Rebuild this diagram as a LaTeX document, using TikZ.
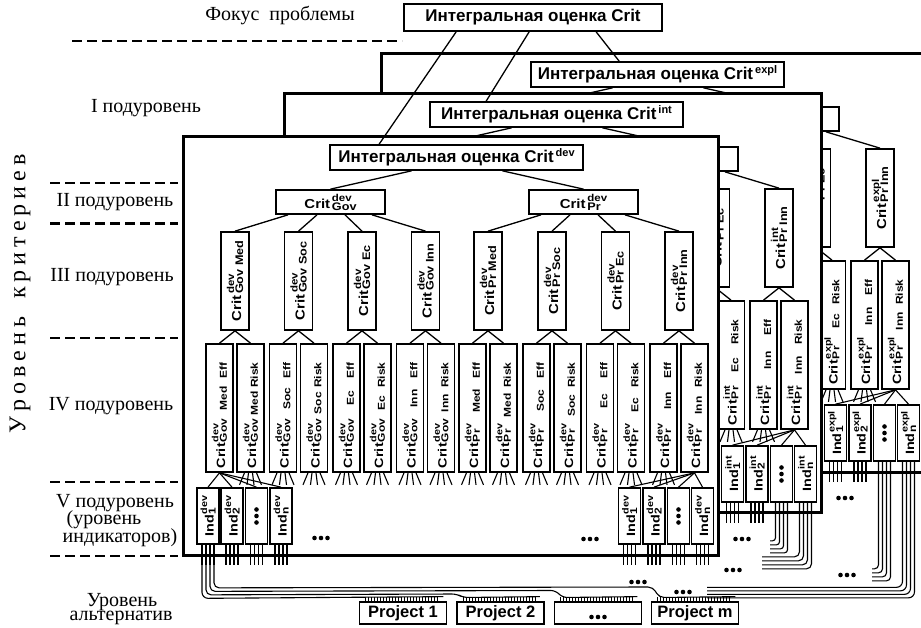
\documentclass[tikz,border=0pt]{standalone}
\usepackage{fontspec}
\setmainfont{Liberation Serif}
\newfontfamily\sansf{Liberation Sans}
\usetikzlibrary{calc}

\newif\ifpart
\newcommand\ShowIf[2]{\ifpart\ifnum\i<#1\relax\else#2\fi\else#2\fi}
\newcommand\LabII[2]{\scalebox{1.15}[1]{\fontsize{13}{13}\selectfont Crit\kern1.5pt\lower2pt\vbox{\baselineskip=9pt\lineskiplimit=-20pt\hbox{\fontsize{10}{10}\selectfont #1}\hbox{\fontsize{11}{11}\selectfont #2}}}}
\newcommand\LabIV[4]{\scalebox{1.2}[1]{\makebox[100pt][l]{\makebox[88pt][s]{\fontsize{12}{12}\selectfont Crit\kern1pt\lower1.8pt\vbox{\baselineskip=8.5pt\lineskiplimit=-20pt\hbox{\fontsize{9}{9}\selectfont #1}\hbox{\fontsize{10}{10}\selectfont #2}}\hspace{2.5pt plus 1fil}\lower1.8pt\hbox{\fontsize{10}{10}\selectfont #3}\hspace{2.5pt plus 1fil}\lower1.8pt\hbox{\fontsize{10}{10}\selectfont #4}}}}}
\newcommand\LabInd[2]{\scalebox{1.2}[1]{\fontsize{12}{12}\selectfont Ind\kern0.5pt\lower1.8pt\vbox{\baselineskip=8.5pt\lineskiplimit=-20pt\hbox{\fontsize{9}{9}\selectfont #1}\hbox{\fontsize{10}{10}\selectfont #2}}}}
\newcommand\TitleTxt[1]{Интегральная оценка Crit\kern2pt\raisebox{6.5pt}{\fontsize{11}{11}\selectfont #1}}
\newcommand\TDots[1]{\foreach \q in {-6.5,0,6.5}{\fill ($(#1)+(\q,0)$) circle (2.3pt);}}
\newcommand\Fringe[1]{\foreach \fa/\fd in {-6/-5,-2/-1.5,2/1.5,6/5}{\draw[wire] ($(#1.south)+(\fa,0)$) -- ++(\fd,12);}}
\newcommand\IndNode[4]{\node[indbox] (#1) at (#2,516) {\rotatebox{90}{\LabInd{#3}{#4}}};}
\newcommand\IndL[4]{\node[indbox] (#1) at (#2,516) {\ifpart\else\rotatebox{90}{\LabInd{#3}{#4}}\fi};}
\newcommand\IndDots[2]{\node[indbox] (#1) at (#2,516) {};\foreach \q in {-6.5,0,6.5}{\fill ($(#1.center)+(0,\q)$) circle (2.3pt);}}
\newcommand\lsp{\kern5pt}

% #1 prefix, #2 sup, #3 tree shift, #4 indicator extra shift, #5 true/false (partly hidden panel)
\newcommand\PanelTree[5]{%
\csname part#5\endcsname
\begin{scope}[shift={#3}]
 \node[ttl] (#1-t) at (456.5,157.5) {\TitleTxt{#2}};
 \node[lvtwo] (#1-gov) at (330.5,202) {\ifpart\else\LabII{#2}{Gov}\fi};
 \node[lvtwo] (#1-pr) at (583.5,202) {\LabII{#2}{Pr}};
 \draw[conn] ($(#1-t.south)+(-45,0)$) -- (#1-gov.north);
 \draw[conn] ($(#1-t.south)+(46,0)$) -- (#1-pr.north);
 \foreach \i/\x/\prnt/\off/\grp/\cat in {1/235/gov/-42.5/Gov/Med,2/298.5/gov/-13.5/Gov/Soc,3/362/gov/14.5/Gov/Ec,4/425.5/gov/41.5/Gov/Inn,5/488/pr/-42.5/Pr/Med,6/552/pr/-13.5/Pr/Soc,7/615.5/pr/14.5/Pr/Ec,8/679/pr/41.5/Pr/Inn}{
  \node[lvthree] (#1-3-\i) at (\x,281) {\ShowIf{7}{\rotatebox{90}{\LabII{#2}{\grp\ \cat}}}};
  \draw[conn] ($(#1-\prnt.south)+(\off,0)$) -- (#1-3-\i.north);
  \node[lvfour] (#1-4a-\i) at (\x-15.5,408) {\ShowIf{8}{\rotatebox{90}{\LabIV{#2}{\grp}{\cat}{Eff}}}};
  \node[lvfour] (#1-4b-\i) at (\x+15.5,408) {\ShowIf{7}{\rotatebox{90}{\LabIV{#2}{\grp}{\cat}{Risk}}}};
  \draw[conn] (#1-3-\i.south) -- (#1-4a-\i.north);
  \draw[conn] (#1-3-\i.south) -- (#1-4b-\i.north);
  \ifnum\i>1 \Fringe{#1-4a-\i}\fi
  \ifnum\i<8 \Fringe{#1-4b-\i}\fi
 }
 \begin{scope}[shift={#4}]
  \IndL{#1-ind-1}{208}{#2}{1}
  \IndL{#1-ind-2}{232}{#2}{2}
  \IndDots{#1-ind-3}{256.5}
  \IndL{#1-ind-4}{281}{#2}{n}
  \IndNode{#1-ind-5}{629.5}{#2}{1}
  \IndNode{#1-ind-6}{654}{#2}{2}
  \IndDots{#1-ind-7}{678.5}
  \IndNode{#1-ind-8}{702.5}{#2}{n}
 \end{scope}
 \foreach \i in {1,...,4}{\draw[wire] (#1-4a-1.south) -- (#1-ind-\i.north);}
 \foreach \i in {5,...,8}{\draw[wire] (#1-4b-8.south) -- (#1-ind-\i.north);}
 \foreach \i in {1,...,8}{\foreach \dd in {-6,-2,2,6}{\draw[wire] ($(#1-ind-\i.south)+(\dd,0)$) -- ++(0,20);}}
 \TDots{321,538}
 \TDots{590,539}
\end{scope}}

\tikzset{
 panel/.style={draw, line width=3pt, fill=white},
 bx/.style={draw, line width=1.7pt, fill=white, inner sep=0pt, rectangle, font=\sansf\bfseries},
 ttl/.style={bx, minimum width=253pt, minimum height=25pt, font=\sansf\bfseries\fontsize{17}{17}\selectfont},
 topttl/.style={ttl, minimum width=258pt, minimum height=27pt},
 lvtwo/.style={bx, minimum width=109pt, minimum height=24pt},
 lvthree/.style={bx, minimum width=28pt, minimum height=98pt},
 lvfour/.style={bx, minimum width=27pt, minimum height=128pt},
 indbox/.style={bx, minimum width=22pt, minimum height=56pt},
 proj/.style={bx, minimum width=87pt, minimum height=22pt, font=\sansf\bfseries\fontsize{16.5}{16.5}\selectfont},
 conn/.style={line width=1.3pt},
 wire/.style={line width=1.1pt},
 lvl/.style={font=\fontsize{20}{20}\selectfont, inner sep=0pt, anchor=base},
 dash line/.style={line width=2.8pt, dash pattern=on 10pt off 5pt},
}

\begin{document}
\begin{tikzpicture}[x=1pt,y=-1pt]
\path[use as bounding box] (0,0) rectangle (921,628);
\begin{scope}
\clip (0,0) rectangle (921,628);
% ---- expl panel
\draw[panel] (381,54) rectangle (935,472);
\PanelTree{e}{expl}{(201,-83)}{(5,0)}{true}
\foreach \k in {0,1,2,3}{\draw[wire, rounded corners=4pt] ($(e-ind-7.south)+(-6+4*\k,0)$) -- ++(0,107+4*\k) -- ++(-6.5-4*\k,0);}
\foreach \k in {0,1,2,3}{\draw[wire, rounded corners=6pt] ($(e-ind-8.south)+(-6+4*\k,0)$) -- ++(0,125.5+3.5*\k) -- ++(-195.5-4*\k,0);}
% ---- int panel
\draw[panel] (284,94) rectangle (821,512);
\PanelTree{i}{int}{(100,-43)}{(3,1)}{true}
\foreach \k in {0,1,2,3}{\draw[wire, rounded corners=3pt] ($(i-ind-7.south)+(-6+4*\k,0)$) -- ++(0,38+4*\k) -- ++(-5.5-4*\k,0);}
\foreach \k in {0,1,2,3}{\draw[wire, rounded corners=5pt] ($(i-ind-8.south)+(-6+4*\k,0)$) -- ++(0,54+4*\k) -- ++(-37.5-4*\k,0);}
% ---- dev panel
\draw[panel] (183,137) rectangle (718,555);
\PanelTree{d}{dev}{(0,0)}{(0,0)}{false}
% ---- projects
\node[proj] (p1) at (403,613) {Project 1};
\node[proj] (p2) at (500.5,613) {Project 2};
\node[proj] (pd) at (598,613) {};
\node[proj] (pm) at (695,613) {Project m};
\foreach \q in {-6.5,0,6.5}{\fill ($(pd.center)+(\q,4)$) circle (2.3pt);}
\draw[wire, rounded corners=6pt] ($(d-ind-1.south)+(-6,0)$) -- ++(0,53.5) -- ($(p1.north east)+(-4,-4.5)$);
\draw[wire, rounded corners=5pt] ($(d-ind-1.south)+(-2,0)$) -- ++(0,50) -- (457,594) -- (463,597.5) -- ($(p2.north east)+(-5,-4.5)$);
\draw[wire, rounded corners=5pt] ($(d-ind-1.south)+(2,0)$) -- ++(0,46.5) -- (556,590.5) -- (562,597.5) -- ($(pd.north east)+(-5,-4.5)$);
\draw[wire, rounded corners=5pt] ($(d-ind-1.south)+(6,0)$) -- ++(0,43) -- (653,587) -- (659,597.5) -- ($(pm.north east)+(-4,-4.5)$);
\foreach \pp in {p1,p2,pd,pm}{\foreach \t in {0,3,...,72}{\draw[line width=0.8pt] ($(\pp.north west)+(7+\t,0)$) -- ++(0,-4.5);}}
% ---- dots outside
\TDots{742,539}
\TDots{733,570}
\TDots{845,498}
\TDots{847,575}
\TDots{638,582}
\TDots{683,592}
% ---- top
\node[topttl] (top) at (533,17.5) {Интегральная оценка Crit};
\draw[conn] ($(top.south west)+(53,0)$) -- ($(d-t.north west)+(50,0)$);
\draw[conn] ($(top.south west)+(126,0)$) -- ($(i-t.north west)+(57,0)$);
\draw[conn] ($(top.south west)+(193,0)$) -- ($(e-t.north west)+(89,0)$);
% ---- left labels
\draw[dash line] (72,41) -- (402,41);
\foreach \yy in {183,223.5,338,482,556}{\draw[dash line] (50,\yy) -- (178,\yy);}
\node[lvl] (focus) at (280,21) {Фокус\ \ проблемы};
\node[lvl] (l1) at (146,113) {I подуровень};
\node[lvl] (l2) at (115,207) {II подуровень};
\node[lvl] (l3) at (112,282) {III подуровень};
\node[lvl] (l4) at (111,410) {IV подуровень};
\node[lvl] (l5) at (115,507) {V подуровень};
\node[lvl] (l5b) at (104,524) {(уровень};
\node[lvl] (l5c) at (120,542) {индикаторов)};
\node[lvl] (l6) at (122,606) {Уровень};
\node[lvl] (l6b) at (121,620) {альтернатив};
\node[font=\fontsize{24}{24}\selectfont, rotate=90, inner sep=0pt] (vert) at (20,294) {У\lsp р\lsp о\lsp в\lsp е\lsp н\lsp ь\hspace{18pt}к\lsp р\lsp и\lsp т\lsp е\lsp р\lsp и\lsp е\lsp в};
\end{scope}
\end{tikzpicture}
\end{document}
